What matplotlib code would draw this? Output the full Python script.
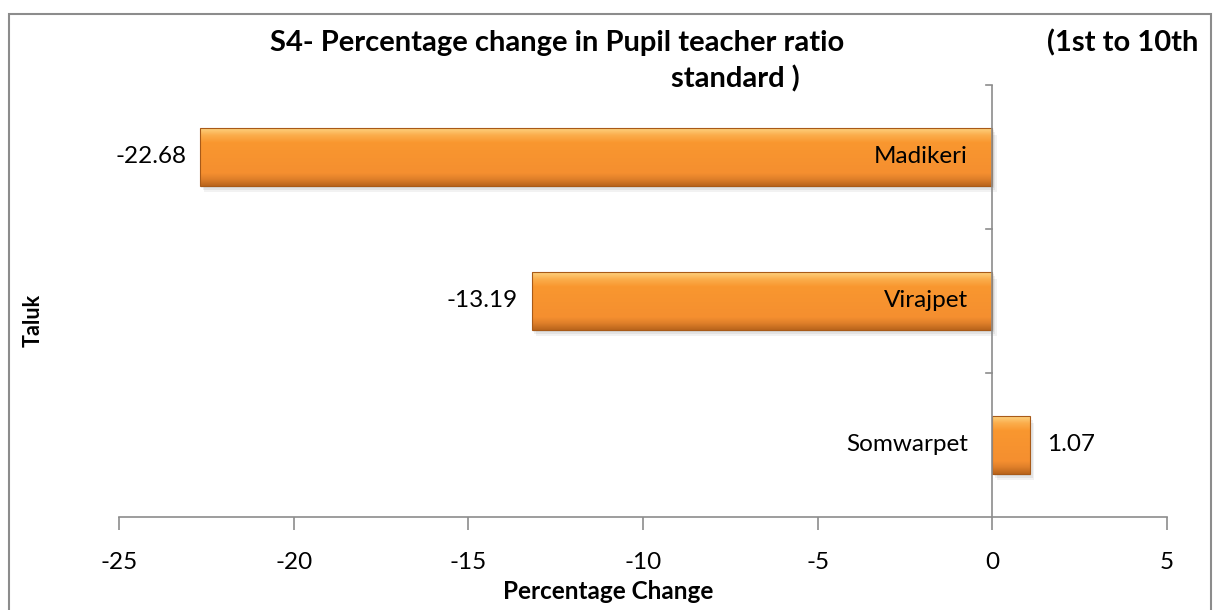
import numpy as np
import matplotlib.pyplot as plt
from matplotlib.colors import LinearSegmentedColormap
from matplotlib.patches import Rectangle

plt.rcParams['font.family'] = ['Lato', 'DejaVu Sans']

taluks = ['Somwarpet', 'Virajpet', 'Madikeri']
change = [1.07, -13.19, -22.68]
value_labels = ['1.07', '-13.19', '-22.68']
xticks = [-25, -20, -15, -10, -5, 0, 5]

fig = plt.figure(figsize=(12.14, 6.1), dpi=100)
ax = fig.add_axes([0.098, 0.1525, 0.8633, 0.7082])

# outer chart frame
fig.patches.append(Rectangle((0.0075, -0.01), 0.99, 0.987, transform=fig.transFigure,
                             fill=False, edgecolor='#8c8c8c', linewidth=1.5))

bar_h = 0.4
ypos = np.arange(len(taluks))
# bevelled orange fill: dark lower edge, flat body, bright upper rim
orange = LinearSegmentedColormap.from_list('orange', [
    (0.0, '#b9641c'), (0.12, '#e0802a'), (0.22, '#f58f30'),
    (0.75, '#f9972f'), (0.88, '#fbad4c'), (1.0, '#fdd27f')])
grad = np.linspace(0, 1, 128).reshape(-1, 1)

bars = ax.barh(ypos, change, height=bar_h, color='none', edgecolor='#a85a18',
               linewidth=0.8, zorder=3)
for b in bars:
    x0, y0 = b.get_x(), b.get_y()
    w, h = b.get_width(), b.get_height()
    # soft drop shadow
    for k, a in enumerate([0.06, 0.06, 0.05]):
        ax.add_patch(Rectangle((x0 + 0.04 * (k + 1), y0 - 0.015 * (k + 1)), w, h,
                               facecolor='#000000', alpha=a, edgecolor='none', zorder=1))
    im = ax.imshow(grad, cmap=orange, origin='lower', aspect='auto',
                   extent=(x0, x0 + w, y0, y0 + h), zorder=2)
    im.set_clip_path(b)

# value labels at the bar ends
for y, v, lab in zip(ypos, change, value_labels):
    if v < 0:
        ax.text(v - 0.4, y, lab, ha='right', va='center', fontsize=17.5, color='#000000')
    else:
        ax.text(v + 0.5, y, lab, ha='left', va='center', fontsize=17.5, color='#000000')

# category names next to the zero line
for y, name in zip(ypos, taluks):
    ax.text(-0.7, y, name, ha='right', va='center', fontsize=17.5, color='#000000', zorder=5)

ax.set_xlim(-25, 5)
ax.set_ylim(-0.5, 2.5)
ax.set_xticks(xticks)
ax.set_xticklabels([str(t) for t in xticks], fontsize=17.5)
ax.set_yticks([-0.5, 0.5, 1.5, 2.5])
ax.set_yticklabels([])

for s in ['top', 'right', 'left']:
    ax.spines[s].set_visible(False)
ax.spines['bottom'].set_color('#8c8c8c')
ax.spines['bottom'].set_linewidth(1.2)
ax.axvline(0, color='#8c8c8c', linewidth=1.2, zorder=4)
ax.tick_params(axis='x', direction='out', length=9, color='#8c8c8c', width=1.2, pad=16)
ax.tick_params(axis='y', length=0)
for yt in [0.5, 1.5, 2.5]:
    ax.plot([-0.18, 0], [yt, yt], color='#8c8c8c', linewidth=1.2, clip_on=False, zorder=4)

ax.set_xlabel('Percentage Change', fontsize=17.5, fontweight='bold')
ax.xaxis.set_label_coords(0.467, -0.145)
fig.text(0.027, 0.475, 'Taluk', rotation=90, fontsize=15.5, fontweight='bold',
         ha='center', va='center')

fig.text(0.222, 0.93, 'S4- Percentage change in Pupil teacher ratio', fontsize=21,
         fontweight='bold', ha='left', va='center')
fig.text(0.987, 0.93, '(1st to 10th', fontsize=21, fontweight='bold', ha='right', va='center')
fig.text(0.606, 0.87, 'standard )', fontsize=21, fontweight='bold', ha='center', va='center')

fig.savefig('out.png', dpi=100)
